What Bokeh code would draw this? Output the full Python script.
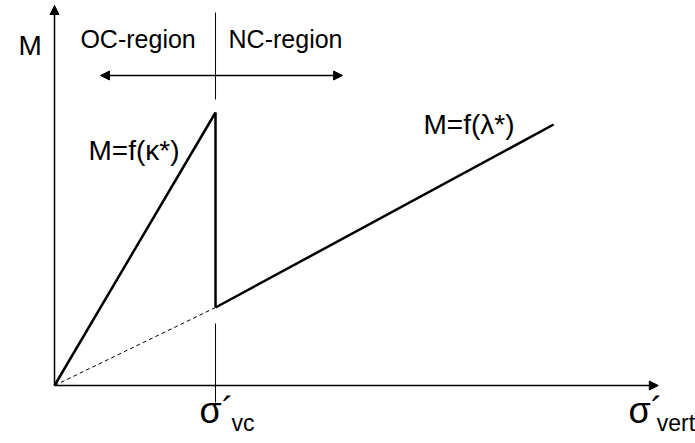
from bokeh.plotting import figure
from bokeh.models import Range1d, Arrow, NormalHead
from bokeh.core.properties import value
from bokeh.embed import file_html
from bokeh.resources import INLINE

# schematic values (sigma'_vc = 1 on x, M in arbitrary units)
sigma_vc = 1.0
sigma_nc_end = 3.1
sigma_axis_end = 3.75
M_axis_end = 3.80
M_peak = 2.73
M_nc_start = 0.78
M_nc_end = 2.61

kappa_x = [0.0, sigma_vc]
kappa_y = [0.0, M_peak]
drop_x = [sigma_vc, sigma_vc]
drop_y = [M_peak, M_nc_start]
nc_x = [sigma_vc, sigma_nc_end]
nc_y = [M_nc_start, M_nc_end]
dash_x = [0.0, sigma_vc]
dash_y = [0.0, M_nc_start]

region_arrow_x = [0.2857, 1.789]
region_arrow_y = 3.10
upper_mark_y = [3.73, 2.86]
lower_mark_y = [0.62, -0.17]

FONT = value("Liberation Sans")

p = figure(width=695, height=443, output_backend="svg", toolbar_location=None,
           x_range=Range1d(-0.3354, 3.981), y_range=Range1d(-0.58, 3.85),
           min_border=0, outline_line_color=None)
p.axis.visible = False
p.grid.visible = False

head = lambda: NormalHead(size=9, fill_color="black", line_color="black")

# axes with arrows
p.add_layout(Arrow(x_start=0, y_start=0, x_end=sigma_axis_end, y_end=0,
                   line_width=1.5, line_color="black", end=head()))
p.add_layout(Arrow(x_start=0, y_start=0, x_end=0, y_end=M_axis_end,
                   line_width=1.5, line_color="black", end=head()))

# double-headed region arrow
p.add_layout(Arrow(x_start=region_arrow_x[0], y_start=region_arrow_y,
                   x_end=region_arrow_x[1], y_end=region_arrow_y,
                   line_width=1.5, line_color="black", start=head(), end=head()))

# thin vertical markers at sigma'_vc
p.line([sigma_vc, sigma_vc], upper_mark_y, line_color="black", line_width=1)
p.line([sigma_vc, sigma_vc], lower_mark_y, line_color="black", line_width=1)

# curves
p.line(kappa_x, kappa_y, line_color="black", line_width=2.5)
p.line(drop_x, drop_y, line_color="black", line_width=2.5)
p.line(nc_x, nc_y, line_color="black", line_width=2.5)
p.line(dash_x, dash_y, line_color="black", line_width=1, line_dash="4 3")

# labels
def label(x, y, t, size, align="left", baseline="middle"):
    p.text(x=[x], y=[y], text=[t], text_font=FONT, text_font_size=size,
           text_align=align, text_baseline=baseline, text_color="black")

label(-0.224, 3.40, "M", "28px")
label(0.161, 3.47, "OC-region", "25px")
label(1.081, 3.47, "NC-region", "25px")
label(0.211, 2.35, "M=f(κ*)", "28px")
label(2.292, 2.61, "M=f(λ*)", "28px")
label(0.90, -0.25, "σ´", "36px")
label(1.10, -0.37, "vc", "23px")
label(3.565, -0.25, "σ´", "36px")
label(3.74, -0.37, "vert", "23px")

html = file_html(p, INLINE)
open("out.html", "w").write(html)
